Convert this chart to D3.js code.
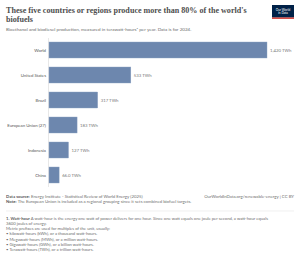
<!DOCTYPE html>
<html>
<head>
<meta charset="utf-8">
<script src="https://cdn.jsdelivr.net/npm/d3@7"></script>
<style>
  html, body { margin: 0; padding: 0; background: #fff; }
  svg { display: block; }
</style>
</head>
<body>
<svg id="chart" width="300" height="260"></svg>
<script>
// data
const categories = ["World", "United States", "Brazil", "European Union (27)", "Indonesia", "China"];
const values = [1420, 533, 317, 183, 127, 66];
const valueLabels = ["1,420 TWh", "533 TWh", "317 TWh", "183 TWh", "127 TWh", "66.0 TWh"];

const titleLines = ["These five countries or regions produce more than 80% of the world's", "biofuels"];
const subtitle = "Bioethanol and biodiesel production, measured in terawatt-hours\u00b9 per year. Data is for 2024.";
const footnoteLines = [
  "A watt-hour is the energy one watt of power delivers for one hour. Since one watt equals one joule per second, a watt-hour equals",
  "3600 joules of energy.",
  "Metric prefixes are used for multiples of the unit, usually:",
  "\u2022 kilowatt-hours (kWh), or a thousand watt-hours.",
  "\u2022 Megawatt-hours (MWh), or a million watt-hours.",
  "\u2022 Gigawatt-hours (GWh), or a billion watt-hours.",
  "\u2022 Terawatt-hours (TWh), or a trillion watt-hours."
];

const svg = d3.select("#chart");
const sans = "Lato, 'Noto Sans', sans-serif";

// titulo
const title = svg.append("g")
  .attr("font-family", "'Liberation Serif', 'DejaVu Serif', serif")
  .attr("font-weight", "bold")
  .attr("fill", "#4e4e4e");
title.selectAll("text")
  .data(titleLines)
  .join("text")
  .attr("x", 6)
  .attr("y", (d, i) => 12.5 + i * 9)
  .attr("font-size", 8.5)
  .text(d => d);
// ajusta a largura da primeira linha
const w0 = title.select("text").node().getComputedTextLength();
title.selectAll("text").attr("font-size", 8.5 * 241 / w0);

svg.append("text")
  .attr("x", 6).attr("y", 30.5)
  .attr("font-family", sans).attr("font-size", 4.6)
  .attr("fill", "#6e6e6e")
  .text(subtitle);

// logo
const logo = svg.append("g").attr("transform", "translate(272,5)");
logo.append("rect").attr("width", 22).attr("height", 12.5).attr("fill", "#002147");
logo.append("rect").attr("y", 12.5).attr("width", 22).attr("height", 1.3).attr("fill", "#ce261e");
logo.append("text").attr("x", 11).attr("y", 5.6).attr("text-anchor", "middle")
  .attr("font-family", sans).attr("font-size", 3.1).attr("fill", "#fff").text("Our World");
logo.append("text").attr("x", 11).attr("y", 9.4).attr("text-anchor", "middle")
  .attr("font-family", sans).attr("font-size", 3.1).attr("fill", "#fff").text("in Data");

// escalas
const x = d3.scaleLinear().domain([0, d3.max(values)]).range([49, 267]);
const y = d3.scaleBand().domain(categories).range([42 - 4.5, 183 + 4.5]).paddingInner(0.36).paddingOuter(0.18);

// eixo vertical
svg.append("line")
  .attr("x1", 48.5).attr("x2", 48.5)
  .attr("y1", 38).attr("y2", 187)
  .attr("stroke", "#d8d8d8").attr("stroke-width", 0.6);

const rows = svg.append("g").selectAll("g")
  .data(categories.map((c, i) => ({ c, v: values[i], label: valueLabels[i] })))
  .join("g");

rows.append("rect")
  .attr("x", x(0))
  .attr("y", d => y(d.c))
  .attr("width", d => x(d.v) - x(0))
  .attr("height", y.bandwidth())
  .attr("fill", "#6d87ae")
  .attr("stroke", "#8ea3c4")
  .attr("stroke-width", 0.4);

rows.append("text")
  .attr("x", 46)
  .attr("y", d => y(d.c) + y.bandwidth() / 2 + 1.5)
  .attr("text-anchor", "end")
  .attr("font-family", sans).attr("font-size", 4.3)
  .attr("fill", "#555")
  .text(d => d.c);

rows.append("text")
  .attr("x", d => x(d.v) + 3)
  .attr("y", d => y(d.c) + y.bandwidth() / 2 + 1.5)
  .attr("font-family", sans).attr("font-size", 4.3)
  .attr("fill", "#777")
  .text(d => d.label);

// rodape
const foot = svg.append("g").attr("font-family", sans).attr("font-size", 4.3).attr("fill", "#6e6e6e");
const src = foot.append("text").attr("x", 6).attr("y", 197.5);
src.append("tspan").attr("font-weight", "bold").attr("fill", "#555").text("Data source: ");
src.append("tspan").text("Energy Institute - Statistical Review of World Energy (2025)");
foot.append("text").attr("x", 294).attr("y", 197.5).attr("text-anchor", "end")
  .text("OurWorldInData.org/renewable-energy | CC BY");
const note = foot.append("text").attr("x", 6).attr("y", 202.8);
note.append("tspan").attr("font-weight", "bold").attr("fill", "#555").text("Note: ");
note.append("tspan").text("The European Union is included as a regional grouping since it sets combined biofuel targets.");

svg.append("line")
  .attr("x1", 6).attr("x2", 294)
  .attr("y1", 211).attr("y2", 211)
  .attr("stroke", "#e6e6e6").attr("stroke-width", 0.6);

const fn = svg.append("g").attr("font-family", sans).attr("font-size", 4.2).attr("fill", "#6e6e6e");
fn.selectAll("text")
  .data(footnoteLines)
  .join("text")
  .attr("x", 6)
  .attr("y", (d, i) => 219.5 + i * 5.3)
  .each(function (d, i) {
    const t = d3.select(this);
    if (i === 0) {
      t.append("tspan").attr("font-weight", "bold").attr("fill", "#555").text("1. Watt-hour ");
    }
    t.append("tspan").text(d);
  });
</script>
</body>
</html>
